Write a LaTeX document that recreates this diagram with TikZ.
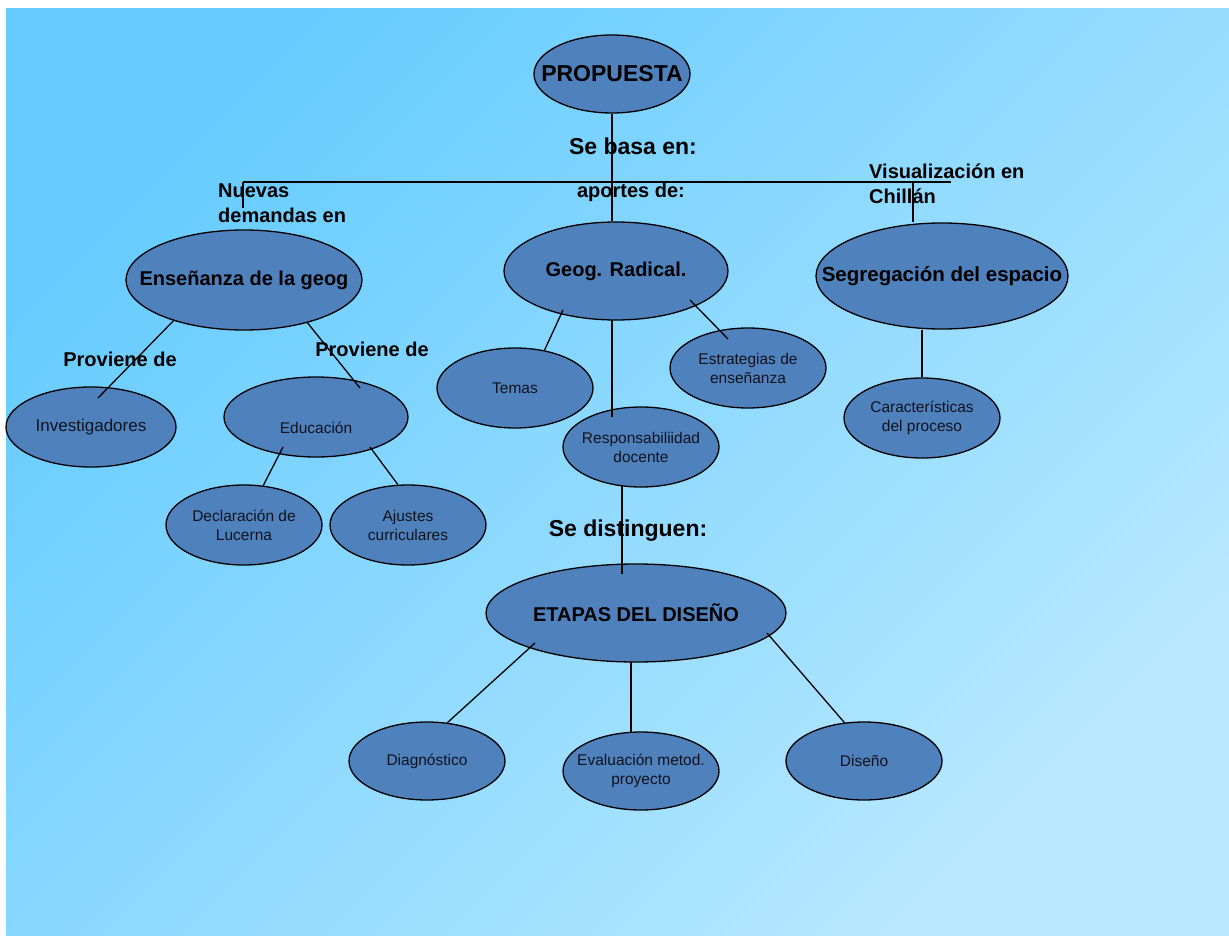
\documentclass[tikz,border=0pt]{standalone}
\usepackage{fontspec}
\setmainfont{Liberation Sans}
\usetikzlibrary{shapes.geometric,calc}
\definecolor{bgtop}{HTML}{66CCFF}
\definecolor{bgbot}{HTML}{B8E8FF}
\definecolor{bubblefill}{HTML}{4F81BD}
\definecolor{ink}{HTML}{10121C}
\newcommand{\bigfont}{\fontsize{23}{27}\selectfont\bfseries}
\newcommand{\bigtag}{\fontsize{23}{27}\selectfont\bfseries}
\newcommand{\headfont}{\fontsize{20}{25}\selectfont\bfseries}
\newcommand{\smallfont}{\fontsize{15.5}{19}\selectfont}
\tikzset{
  bubble/.style={ellipse, draw=black, line width=1.3pt, fill=bubblefill,
    inner xsep=-40pt, inner ysep=-10pt, text=ink, align=center,
    minimum width=156pt, minimum height=80pt, font=\smallfont},
  tag/.style={inner sep=0pt, text=black, font=\headfont},
  link/.style={line width=1.3pt, draw=black},
}

\begin{document}
\begin{tikzpicture}[x=1pt,y=-1pt]
\useasboundingbox (0,0) rectangle (1229,936);
\fill[white] (0,0) rectangle (1229,936);
\shade[top color=bgtop, bottom color=bgbot, shading angle=45] (6,9) rectangle (1229,936);

\node[bubble, minimum width=156pt, minimum height=78pt, font=\bigfont, text=black] (prop) at (612,74) {PROPUESTA};
\node[bubble, minimum width=236pt, minimum height=100pt, font=\headfont, text=black] (ens) at (244,280) {Enseñanza de la geog};
\node[bubble, minimum width=224pt, minimum height=98pt, font=\headfont, text=black] (geog) at (616,271) {Geog. Radical.};
\node[bubble, minimum width=252pt, minimum height=106pt, font=\fontsize{20.5}{25}\selectfont\bfseries, text=black] (segr) at (942,276) {Segregación del espacio};

\node[bubble, minimum width=170pt, font=\fontsize{17}{20}\selectfont] (inv) at (91,427) {Investigadores};
\node[bubble, minimum width=184pt] (edu) at (316,417) {\raisebox{-16pt}[0pt][0pt]{Educación}};
\node[bubble] (decl) at (244,525) {Declaración de\\Lucerna};
\node[bubble] (ajus) at (408,525) {Ajustes\\curriculares};
\node[bubble] (temas) at (515,388) {Temas};
\node[bubble] (estr) at (748,368) {Estrategias de\\enseñanza};
\node[bubble] (resp) at (641,447) {Responsabiliidad\\docente};
\node[bubble] (car) at (922,418) {Características\\del proceso};

\node[bubble, minimum width=300pt, minimum height=98pt, font=\headfont, text=black] (etp) at (636,613) {ETAPAS DEL DISEÑO};
\node[bubble, minimum height=78pt] (diag) at (427,761) {Diagnóstico};
\node[bubble, minimum height=78pt] (evalu) at (641,771) {Evaluación metod.\\proyecto};
\node[bubble, minimum height=78pt] (dis) at (864,761) {Diseño};

\coordinate (hl) at (243,182);
\coordinate (hr) at (951,182);
\coordinate (hlend) at (243,208);
\coordinate (hs) at (913,182);
\draw[link] (prop.south) -- (prop.south |- geog.north);
\draw[link] (hl) -- (hr);
\draw[link] (hl) -- (hlend);
\draw[link] (hs) -- (hs |- segr.north);

\draw[link] (ens.210) -- ($(inv.center)+(7,-29)$);
\draw[link] (ens.-34) -- ($(edu.center)+(44,-29)$);
\draw[link] ($(edu.center)+(-33,30)$) -- (decl.64);
\draw[link] ($(edu.center)+(54,30)$) -- (ajus.104);
\draw[link] ($(geog.center)+(-53,39)$) -- (temas.52);
\draw[link] ($(geog.center)+(-4,49)$) -- ($(resp.center)+(-29,-30)$);
\draw[link] ($(geog.center)+(74,29)$) -- ($(estr.center)+(-20,-29)$);
\draw[link] (car.north |- segr.south) -- (car.north);
\draw[link] ($(resp.center)+(-19,39)$) -- ($(etp.center)+(-14,-39)$);
\draw[link] ($(etp.center)+(-101,30)$) -- (diag.62);
\draw[link] ($(etp.center)+(-5,49)$) -- ($(evalu.center)+(-10,-39)$);
\draw[link] ($(etp.center)+(131,20)$) -- (dis.117);

\node[tag, font=\bigtag] (sebasa) at (633,146) {Se basa en:};
\node[tag] (aportes) at (631,192) {aportes de:};
\node[tag, anchor=base west, align=left] (nuevas) at (218,223) {Nuevas\\demandas en};
\node[tag, anchor=base west, align=left] (visual) at (869,204) {Visualización en\\Chillán};
\node[tag] (prov1) at (120,359) {Proviene de};
\node[tag] (prov2) at (372,349) {Proviene de};
\node[tag, font=\bigtag] (sedist) at (628,531) {Se distinguen:};
\end{tikzpicture}
\end{document}
